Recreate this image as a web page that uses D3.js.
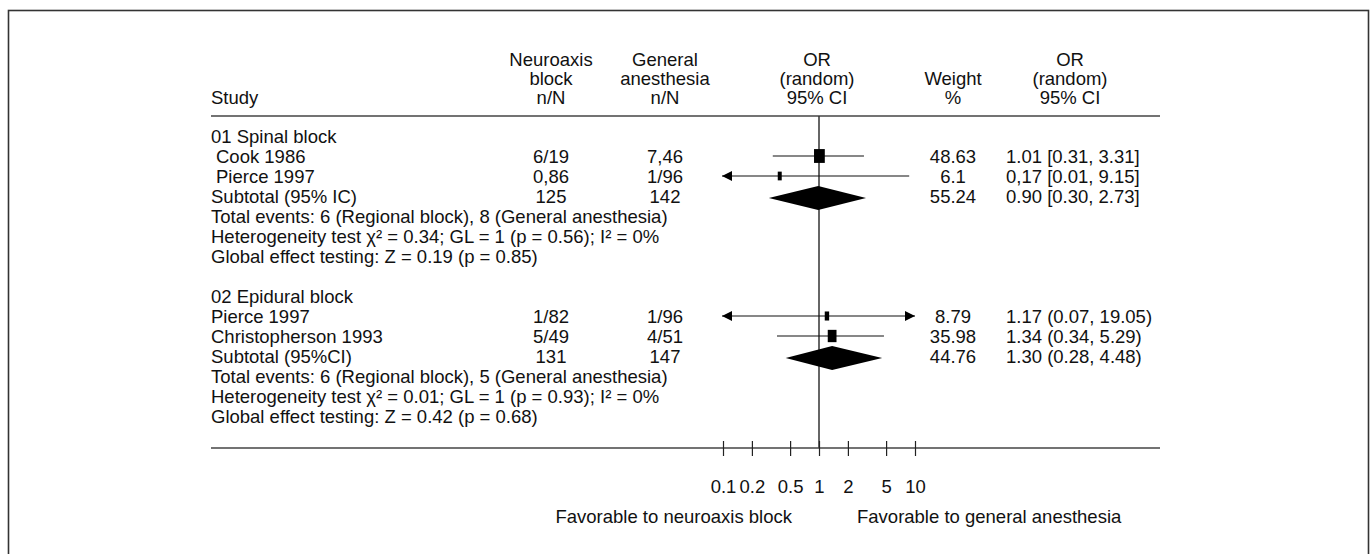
<!DOCTYPE html>
<html>
<head>
<meta charset="utf-8">
<script src="https://cdn.jsdelivr.net/npm/d3@7"></script>
<style>
  body { margin: 0; background: #fff; }
  text { font-family: "Liberation Sans", Arial, sans-serif; fill: #111; }
</style>
</head>
<body>
<script>
// chart data
var groupNames = ["01 Spinal block", "02 Epidural block"];
var studyNames = [["Cook 1986", "Pierce 1997"], ["Pierce 1997", "Christopherson 1993"]];
var neuroaxisN = [["6/19", "0,86"], ["1/82", "5/49"]];
var generalN = [["7,46", "1/96"], ["1/96", "4/51"]];
var weights = [[48.63, 6.1], [8.79, 35.98]];
var orLabels = [["1.01 [0.31, 3.31]", "0,17 [0.01, 9.15]"], ["1.17 (0.07, 19.05)", "1.34 (0.34, 5.29)"]];
// where the marks sit on the OR axis
var orPoint = [[1.01, 0.39], [1.21, 1.37]];
var ciLow = [[0.33, 0.01], [0.07, 0.365]];
var ciHigh = [[2.94, 8.7], [19.05, 4.75]];

var subtotalNames = ["Subtotal (95% IC)", "Subtotal (95%CI)"];
var subtotalN1 = ["125", "131"];
var subtotalN2 = ["142", "147"];
var subtotalWeight = ["55.24", "44.76"];
var subtotalLabels = ["0.90 [0.30, 2.73]", "1.30 (0.28, 4.48)"];
var subPoint = [0.98, 1.37];
var subLow = [0.30, 0.45];
var subHigh = [3.09, 4.55];

var totalEvents = ["Total events: 6 (Regional block), 8 (General anesthesia)",
                   "Total events: 6 (Regional block), 5 (General anesthesia)"];
var heterogeneity = ["Heterogeneity test \u03c7\u00b2 = 0.34; GL = 1 (p = 0.56); I\u00b2 = 0%",
                     "Heterogeneity test \u03c7\u00b2 = 0.01; GL = 1 (p = 0.93); I\u00b2 = 0%"];
var globalEffect = ["Global effect testing: Z = 0.19 (p = 0.85)",
                    "Global effect testing: Z = 0.42 (p = 0.68)"];

var tickValues = [0.1, 0.2, 0.5, 1, 2, 5, 10];

//page size
var w = 1370, h = 554;
var fs = 18.5;   // font size
var rowH = 20;   // row pitch
var firstRow = 137;

// column positions
var colStudy = 211, colN1 = 551, colN2 = 665, colOR = 817, colW = 953, colCI = 1006;

window.onload = function(){
    var svg = d3.select("body").append("svg")
        .attr("width", w)
        .attr("height", h);

    // outer frame
    svg.append("rect")
        .attr("x", 8.5).attr("y", 10.5)
        .attr("width", 1360).attr("height", 560)
        .style("fill", "none").style("stroke", "#333").style("stroke-width", 1.6);

    var x = d3.scaleLog().domain([0.1, 10]).range([723, 915]);
    var boxW = d3.scaleLinear().domain([0, 50]).range([3, 11]);
    var boxH = d3.scaleLinear().domain([0, 50]).range([8, 14]);

    function txt(str, xx, yy, anchor){
        return svg.append("text")
            .attr("x", xx).attr("y", yy).attr("dy", "0.35em")
            .attr("text-anchor", anchor || "start")
            .style("font-size", fs + "px")
            .text(str);
    }

    // header
    var hy = [60, 79, 98];
    txt("Study", colStudy, hy[2]);
    txt("Neuroaxis", colN1, hy[0], "middle");
    txt("block", colN1, hy[1], "middle");
    txt("n/N", colN1, hy[2], "middle");
    txt("General", colN2, hy[0], "middle");
    txt("anesthesia", colN2, hy[1], "middle");
    txt("n/N", colN2, hy[2], "middle");
    txt("OR", colOR, hy[0], "middle");
    txt("(random)", colOR, hy[1], "middle");
    txt("95% CI", colOR, hy[2], "middle");
    txt("Weight", colW, hy[1], "middle");
    txt("%", colW, hy[2], "middle");
    txt("OR", 1070, hy[0], "middle");
    txt("(random)", 1070, hy[1], "middle");
    txt("95% CI", 1070, hy[2], "middle");

    svg.append("line")
        .attr("x1", 211).attr("x2", 1160).attr("y1", 116).attr("y2", 116)
        .style("stroke", "#444").style("stroke-width", 1.6);

    // line of no effect
    svg.append("line")
        .attr("x1", x(1)).attr("x2", x(1)).attr("y1", 116).attr("y2", 448)
        .style("stroke", "#333").style("stroke-width", 1.5);

    groupNames.forEach(function(g, gi){
        var y0 = firstRow + gi * 8 * rowH;
        txt(g, colStudy, y0);

        studyNames[gi].forEach(function(s, si){
            var y = y0 + (si + 1) * rowH;
            txt(s, gi === 0 ? colStudy + 5 : colStudy, y);
            txt(neuroaxisN[gi][si], colN1, y, "middle");
            txt(generalN[gi][si], colN2, y, "middle");
            txt(String(weights[gi][si]), colW, y, "middle");
            txt(orLabels[gi][si], colCI, y);

            var my = y - 1;
            var lo = ciLow[gi][si], hi = ciHigh[gi][si];
            var xl = lo < 0.1 ? x(0.1) - 1 : x(lo);
            var xh = hi > 10 ? x(10) : x(hi);
            svg.append("line")
                .attr("x1", xl).attr("x2", xh).attr("y1", my).attr("y2", my)
                .style("stroke", "#111").style("stroke-width", 1.2);
            if (lo < 0.1) {
                svg.append("path")
                    .attr("d", "M" + xl + "," + my + "L" + (xl + 10) + "," + (my - 5) + "L" + (xl + 10) + "," + (my + 5) + "Z")
                    .style("fill", "#000");
            }
            if (hi > 10) {
                svg.append("path")
                    .attr("d", "M" + xh + "," + my + "L" + (xh - 10) + "," + (my - 5) + "L" + (xh - 10) + "," + (my + 5) + "Z")
                    .style("fill", "#000");
            }
            var bw = boxW(weights[gi][si]), bh = boxH(weights[gi][si]);
            svg.append("rect")
                .attr("x", x(orPoint[gi][si]) - bw / 2)
                .attr("y", my - bh / 2)
                .attr("width", bw).attr("height", bh)
                .style("fill", "#000");
        });

        var ys = y0 + 3 * rowH;
        txt(subtotalNames[gi], colStudy, ys);
        txt(subtotalN1[gi], colN1, ys, "middle");
        txt(subtotalN2[gi], colN2, ys, "middle");
        txt(subtotalWeight[gi], colW, ys, "middle");
        txt(subtotalLabels[gi], colCI, ys);

        var dy = ys + 1;
        var pts = [[x(subLow[gi]), dy], [x(subPoint[gi]), dy - 12], [x(subHigh[gi]), dy], [x(subPoint[gi]), dy + 12]];
        svg.append("path")
            .attr("d", d3.line()(pts) + "Z")
            .style("fill", "#000");

        txt(totalEvents[gi], colStudy, y0 + 4 * rowH);
        txt(heterogeneity[gi], colStudy, y0 + 5 * rowH);
        txt(globalEffect[gi], colStudy, y0 + 6 * rowH);
    });

    // bottom axis
    svg.append("line")
        .attr("x1", 211).attr("x2", 1160).attr("y1", 448).attr("y2", 448)
        .style("stroke", "#444").style("stroke-width", 1.6);

    var axis = svg.append("g")
        .attr("transform", "translate(0,448)")
        .call(d3.axisBottom(x)
            .tickValues(tickValues)
            .tickFormat(function(d){ return String(d); })
            .tickSizeInner(8).tickSizeOuter(0).tickPadding(24));
    axis.select(".domain").remove();
    axis.selectAll(".tick line").attr("y1", -7).attr("y2", 8)
        .style("stroke", "#222").style("stroke-width", 1.2);
    axis.selectAll(".tick text")
        .style("font-size", fs + "px")
        .style("font-family", "'Liberation Sans', Arial, sans-serif")
        .style("fill", "#111");

    txt("Favorable to neuroaxis block", 792, 517, "end");
    txt("Favorable to general anesthesia", 857, 517);
};
</script>
</body>
</html>
